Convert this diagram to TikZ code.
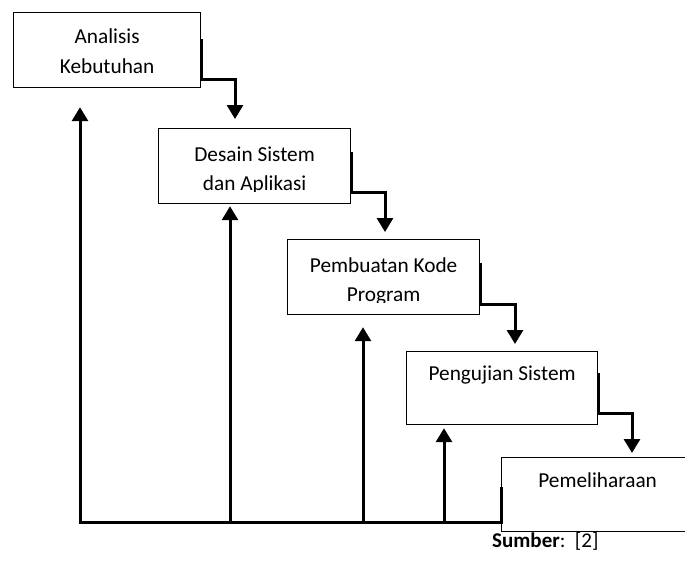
\documentclass[tikz,border=0pt]{standalone}
\usepackage{fontspec}
\setmainfont{Carlito}
\usetikzlibrary{arrows.meta,calc}
\begin{document}
\begin{tikzpicture}[x=1pt,y=-1pt,
  stage/.style={draw=black,line width=1.2pt,inner sep=0pt,anchor=north west,minimum height=75pt},
  lbl/.style={anchor=base,font=\fontsize{21.3}{29}\selectfont,inner sep=0pt},
  link/.style={line width=3pt,line join=miter},
  conn/.style={link,-{Triangle[width=16pt,length=14pt]}},
]
\clip (0,0) rectangle (685,563);
% boxes
\node[stage,minimum width=187pt] (b1) at (13,12) {};
\node[stage,minimum width=192pt] (b2) at (158,128) {};
\node[stage,minimum width=192pt] (b3) at (287,239) {};
\node[stage,minimum width=191pt,minimum height=73pt] (b4) at (406,351) {};
\node[stage,minimum width=192pt,minimum height=74pt] (b5) at (501,457) {};
% labels
\node[lbl] (t1a) at ($(b1.north)+(0,31)$) {Analisis};
\node[lbl] (t1b) at ($(b1.north)+(0,61)$) {Kebutuhan};
\begin{scope}
  \clip (b2.north west) rectangle ($(b2.north east)+(0,63)$);
  \node[lbl] (t2a) at ($(b2.north)+(0,33)$) {Desain Sistem};
  \node[lbl] (t2b) at ($(b2.north)+(0,62)$) {dan Aplikasi};
\end{scope}
\begin{scope}
  \clip (b3.north west) rectangle ($(b3.north east)+(0,63)$);
  \node[lbl] (t3a) at ($(b3.north)+(0,33)$) {Pembuatan Kode};
  \node[lbl] (t3b) at ($(b3.north)+(0,62)$) {Program};
\end{scope}
\node[lbl] (t4) at ($(b4.north)+(0,29)$) {Pengujian Sistem};
\node[lbl] (t5) at ($(b5.north)+(0,30)$) {Pemeliharaan};
\node[anchor=base west,inner sep=0pt,font=\fontsize{21}{25}\selectfont] (src) at (492,547) {\textbf{Sumber}:~~[2]};
% forward connectors
\draw[conn] ($(b1.north east)+(0,27)$) -- ($(b1.north east)+(0,67)$) -| ($(b2.north west)+(77,-9)$);
\draw[conn] ($(b2.north east)+(0,24)$) -- ($(b2.north east)+(0,64)$) -| ($(b3.north west)+(98,-7)$);
\draw[conn] ($(b3.north east)+(0,24)$) -- ($(b3.north east)+(0,65)$) -| ($(b4.north west)+(109,-7)$);
\draw[conn] ($(b4.north east)+(0,22)$) -- ($(b4.north east)+(0,62)$) -| ($(b5.north west)+(131,-4)$);
% feedback connectors
\coordinate (base) at (0,522);
\coordinate (u1) at ($(b1.south west)+(67,19)$);
\coordinate (u2) at ($(b2.south west)+(72,2)$);
\coordinate (u3) at ($(b3.south west)+(76,12)$);
\coordinate (u4) at ($(b4.south west)+(38,3)$);
\draw[conn] ($(b5.north west)+(0,30)$) -- (b5.west |- base) -| (u1);
\draw[conn] (u2 |- base) -- (u2);
\draw[conn] (u3 |- base) -- (u3);
\draw[conn] (u4 |- base) -- (u4);
\end{tikzpicture}
\end{document}
